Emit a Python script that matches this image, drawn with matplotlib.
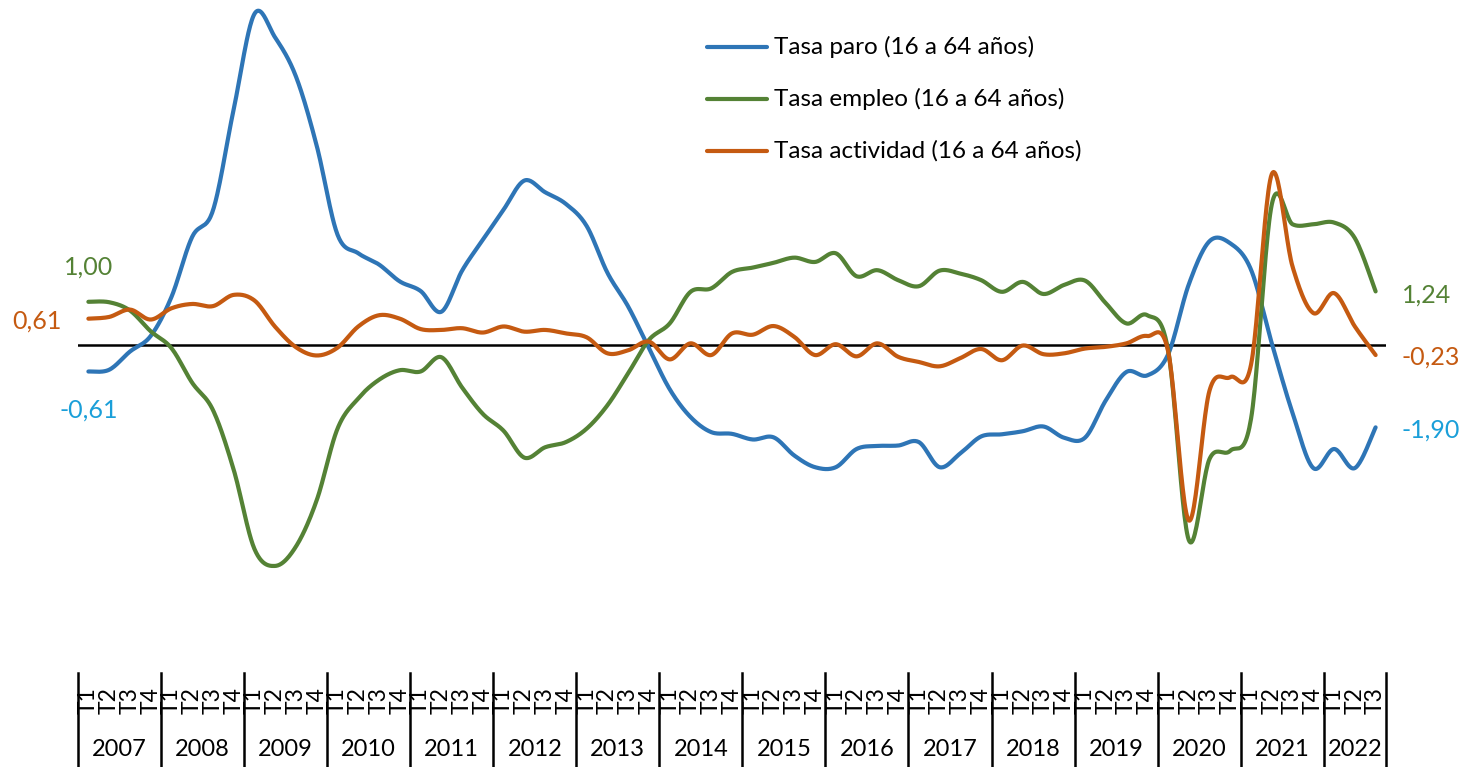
import numpy as np
import matplotlib.pyplot as plt
from matplotlib.lines import Line2D
from matplotlib.transforms import blended_transform_factory

plt.rcParams['font.family'] = ['Lato', 'DejaVu Sans']

# quarterly change, 2007 T1 - 2022 T3
years = list(range(2007, 2023))
quarters = (['T1', 'T2', 'T3', 'T4'] * len(years))[:63]

paro = [-0.61, -0.57, -0.15, 0.21, 1.11, 2.50, 3.11, 5.45, 7.65, 7.10,
        6.20, 4.60, 2.55, 2.12, 1.86, 1.47, 1.25, 0.77, 1.72, 2.43,
        3.13, 3.80, 3.53, 3.26, 2.75, 1.67, 0.89, -0.07, -1.02, -1.66,
        -2.01, -2.05, -2.18, -2.13, -2.55, -2.82, -2.82, -2.40, -2.33, -2.32,
        -2.24, -2.82, -2.50, -2.11, -2.06, -1.99, -1.88, -2.14, -2.14, -1.28,
        -0.62, -0.70, -0.22, 1.40, 2.40, 2.35, 1.74, 0.04, -1.57, -2.84,
        -2.40, -2.84, -1.90]

empleo = [1.00, 0.99, 0.80, 0.32, -0.07, -0.87, -1.50, -2.88, -4.71, -5.10,
          -4.65, -3.58, -1.93, -1.23, -0.80, -0.58, -0.61, -0.28, -0.98, -1.59,
          -1.98, -2.60, -2.36, -2.24, -1.93, -1.39, -0.65, 0.12, 0.50, 1.23,
          1.31, 1.69, 1.79, 1.90, 2.02, 1.92, 2.12, 1.59, 1.73, 1.50,
          1.36, 1.72, 1.65, 1.50, 1.23, 1.46, 1.18, 1.39, 1.49, 0.97,
          0.50, 0.69, -0.10, -4.50, -2.63, -2.44, -1.70, 3.25, 2.79, 2.79,
          2.83, 2.47, 1.24]

actividad = [0.61, 0.65, 0.82, 0.59, 0.85, 0.95, 0.90, 1.16, 1.03, 0.42,
             -0.05, -0.24, -0.06, 0.43, 0.69, 0.61, 0.37, 0.35, 0.39, 0.29,
             0.43, 0.31, 0.35, 0.27, 0.18, -0.19, -0.12, 0.08, -0.33, 0.04,
             -0.23, 0.27, 0.24, 0.44, 0.19, -0.23, 0.02, -0.26, 0.04, -0.27,
             -0.39, -0.49, -0.30, -0.09, -0.35, -0.01, -0.21, -0.19, -0.08, -0.04,
             0.04, 0.21, -0.13, -4.05, -1.05, -0.74, -0.45, 3.95, 1.81, 0.74,
             1.20, 0.43, -0.23]

series = [
    ('Tasa paro (16 a 64 años)', paro, '#2e75b6', '#1a9fd9'),
    ('Tasa empleo (16 a 64 años)', empleo, '#548235', '#548235'),
    ('Tasa actividad (16 a 64 años)', actividad, '#c55a11', '#c55a11'),
]


def smooth(y, n=24):
    # cubic Bezier through every point (Catmull-Rom control points)
    p = np.column_stack([np.arange(len(y)), y]).astype(float)
    p = np.vstack([p[0], p, p[-1]])
    t = np.linspace(0, 1, n, endpoint=False)[:, None]
    out = []
    for k in range(1, len(p) - 2):
        p0, p1, p2, p3 = p[k - 1], p[k], p[k + 1], p[k + 2]
        c1 = p1 + (p2 - p0) / 6
        c2 = p2 - (p3 - p1) / 6
        out.append((1 - t) ** 3 * p1 + 3 * (1 - t) ** 2 * t * c1
                   + 3 * (1 - t) * t ** 2 * c2 + t ** 3 * p2)
    out.append(p[-2][None, :])
    out = np.vstack(out)
    return out[:, 0], out[:, 1]


W, H = 1468, 767
fig = plt.figure(figsize=(W / 100, H / 100), dpi=100)
ax = fig.add_axes([78 / W, (H - 672) / H, 1308 / W, 672 / H])
ax.set_xlim(-0.5, len(quarters) - 0.5)
ax.set_ylim(-7.55, 7.97)
ax.set_axis_off()

ax.axhline(0, color='black', lw=1.8, zorder=1)

for name, vals, color, lab_color in series:
    sx, sy = smooth(vals)
    ax.plot(sx, sy, color=color, lw=3, solid_capstyle='round', zorder=3)

# first and last values
label_offsets = {
    'Tasa paro (16 a 64 años)': ((0, -28), (40, -2)),
    'Tasa empleo (16 a 64 años)': ((0, 25), (37, -3)),
    'Tasa actividad (16 a 64 años)': ((-37, -2), (40, -1.5)),
}
for name, vals, color, lab_color in series:
    for idx, off in zip((0, len(vals) - 1), label_offsets[name]):
        txt = f'{vals[idx]:.2f}'.replace('.', ',')
        ax.annotate(txt, xy=(idx, vals[idx]), xytext=off,
                    textcoords='offset points', ha='center', va='center',
                    fontsize=18, color=lab_color, annotation_clip=False)

# two-level category axis
tr = blended_transform_factory(ax.transData, fig.transFigure)
for i, q in enumerate(quarters):
    ax.text(i, 1 - 701 / H, q, transform=tr, rotation=90,
            ha='center', va='center', fontsize=16.5, clip_on=False)

bounds = list(np.arange(-0.5, len(quarters), 4)) + [len(quarters) - 0.5]
for b in bounds:
    ax.add_line(Line2D([b, b], [1 - 673 / H, 0], transform=tr,
                       color='black', lw=1.8, clip_on=False))
for k, yr in enumerate(years):
    left = bounds[k]
    right = bounds[k + 1]
    ax.text((left + right) / 2, 1 - 750 / H, str(yr), transform=tr,
            ha='center', va='center', fontsize=17, clip_on=False)

# legend
for row, (name, vals, color, lab_color) in enumerate(series):
    ypos = 1 - (47 + 52 * row) / H
    fig.add_artist(Line2D([707 / W, 767 / W], [ypos, ypos], color=color,
                          lw=3, solid_capstyle='round'))
    fig.text(774 / W, ypos, name, ha='left', va='center', fontsize=17.5)

fig.savefig('out.png', dpi=100)
